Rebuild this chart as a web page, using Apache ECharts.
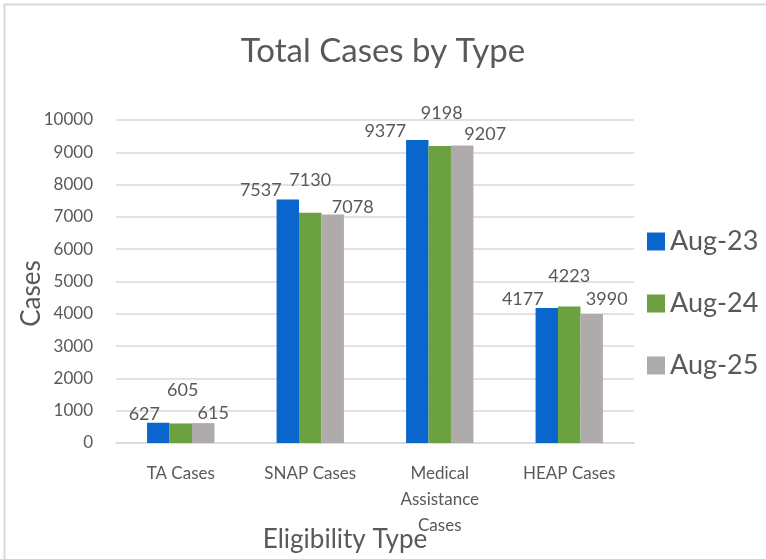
<!DOCTYPE html>
<html>
<head>
<meta charset="utf-8">
<script src="https://cdn.jsdelivr.net/npm/echarts@6/dist/echarts.min.js"></script>
<style>
  html, body { margin: 0; padding: 0; background: #fff; }
  #main { width: 766px; height: 559px; }
</style>
</head>
<body>
<div id="main"></div>
<script>
// 数据
var categories = ['TA Cases', 'SNAP Cases', 'Medical\nAssistance\nCases', 'HEAP Cases'];
var seriesNames = ['Aug-23', 'Aug-24', 'Aug-25'];
var aug23 = [627, 7537, 9377, 4177];
var aug24 = [605, 7130, 9198, 4223];
var aug25 = [615, 7078, 9207, 3990];
var yTicks = [0, 1000, 2000, 3000, 4000, 5000, 6000, 7000, 8000, 9000, 10000];

var colors = ['#0A66CC', '#6BA140', '#AFABAB'];
var textColor = '#595959';
var font = 'Lato';

// 标签偏移 (仿Excel避让)
var labelOffsets = [
  [[-14, 0], [-27, 0], [-32, 0], [-24, 0]],
  [[2, -24], [0, -24], [2, -24], [0, -21]],
  [[10, -1], [20, 2], [23, -2], [15, -6]]
];

var chart = echarts.init(document.getElementById('main'));

function makeSeries(idx, values) {
  return {
    name: seriesNames[idx],
    type: 'bar',
    barGap: '0%',
    barCategoryGap: '48%',
    itemStyle: { color: colors[idx] },
    data: values.map(function (v, i) {
      return {
        value: v,
        label: { offset: labelOffsets[idx][i] }
      };
    }),
    label: {
      show: true,
      position: 'top',
      distance: 0,
      color: textColor,
      fontFamily: font,
      fontSize: 18
    }
  };
}

var option = {
  animation: false,
  textStyle: { fontFamily: font },
  title: {
    text: 'Total Cases by Type',
    left: 'center',
    top: 30,
    textStyle: { color: textColor, fontFamily: font, fontWeight: 'normal', fontSize: 33 }
  },
  legend: {
    orient: 'vertical',
    left: 642,
    top: 223,
    itemWidth: 18,
    itemHeight: 18,
    itemGap: 35,
    icon: 'rect',
    data: seriesNames,
    textStyle: { color: textColor, fontFamily: font, fontSize: 27 }
  },
  grid: { left: 116, right: 132, top: 120, bottom: 116, outerBoundsMode: 'none' },
  xAxis: {
    type: 'category',
    data: categories,
    name: 'Eligibility Type',
    nameLocation: 'middle',
    nameGap: 84,
    nameMoveOverlap: false,
    nameTextStyle: { color: textColor, fontFamily: font, fontSize: 26, padding: [0, 60, 0, 0] },
    axisTick: { show: false },
    axisLine: { lineStyle: { color: '#D9D9D9', width: 1.5 } },
    axisLabel: { color: textColor, fontFamily: font, fontSize: 17, margin: 18, lineHeight: 26, interval: 0 }
  },
  yAxis: {
    type: 'value',
    min: yTicks[0],
    max: yTicks[yTicks.length - 1],
    interval: 1000,
    name: 'Cases',
    nameLocation: 'middle',
    nameGap: 71,
    nameMoveOverlap: false,
    nameTextStyle: { color: textColor, fontFamily: font, fontSize: 26, padding: [0, 0, 0, -24] },
    axisLine: { show: false },
    axisTick: { show: false },
    axisLabel: {
      color: textColor, fontFamily: font, fontSize: 17, margin: 23,
      formatter: function (v) { return String(v); }
    },
    splitLine: { lineStyle: { color: '#D9D9D9', width: 1.5 } }
  },
  graphic: [{
    type: 'rect',
    silent: true,
    shape: { x: 4.5, y: 4.5, width: 900, height: 700 },
    style: { fill: 'none', stroke: '#D9D9D9', lineWidth: 2 }
  }],
  series: [
    makeSeries(0, aug23),
    makeSeries(1, aug24),
    makeSeries(2, aug25)
  ]
};

chart.setOption(option);
</script>
</body>
</html>
